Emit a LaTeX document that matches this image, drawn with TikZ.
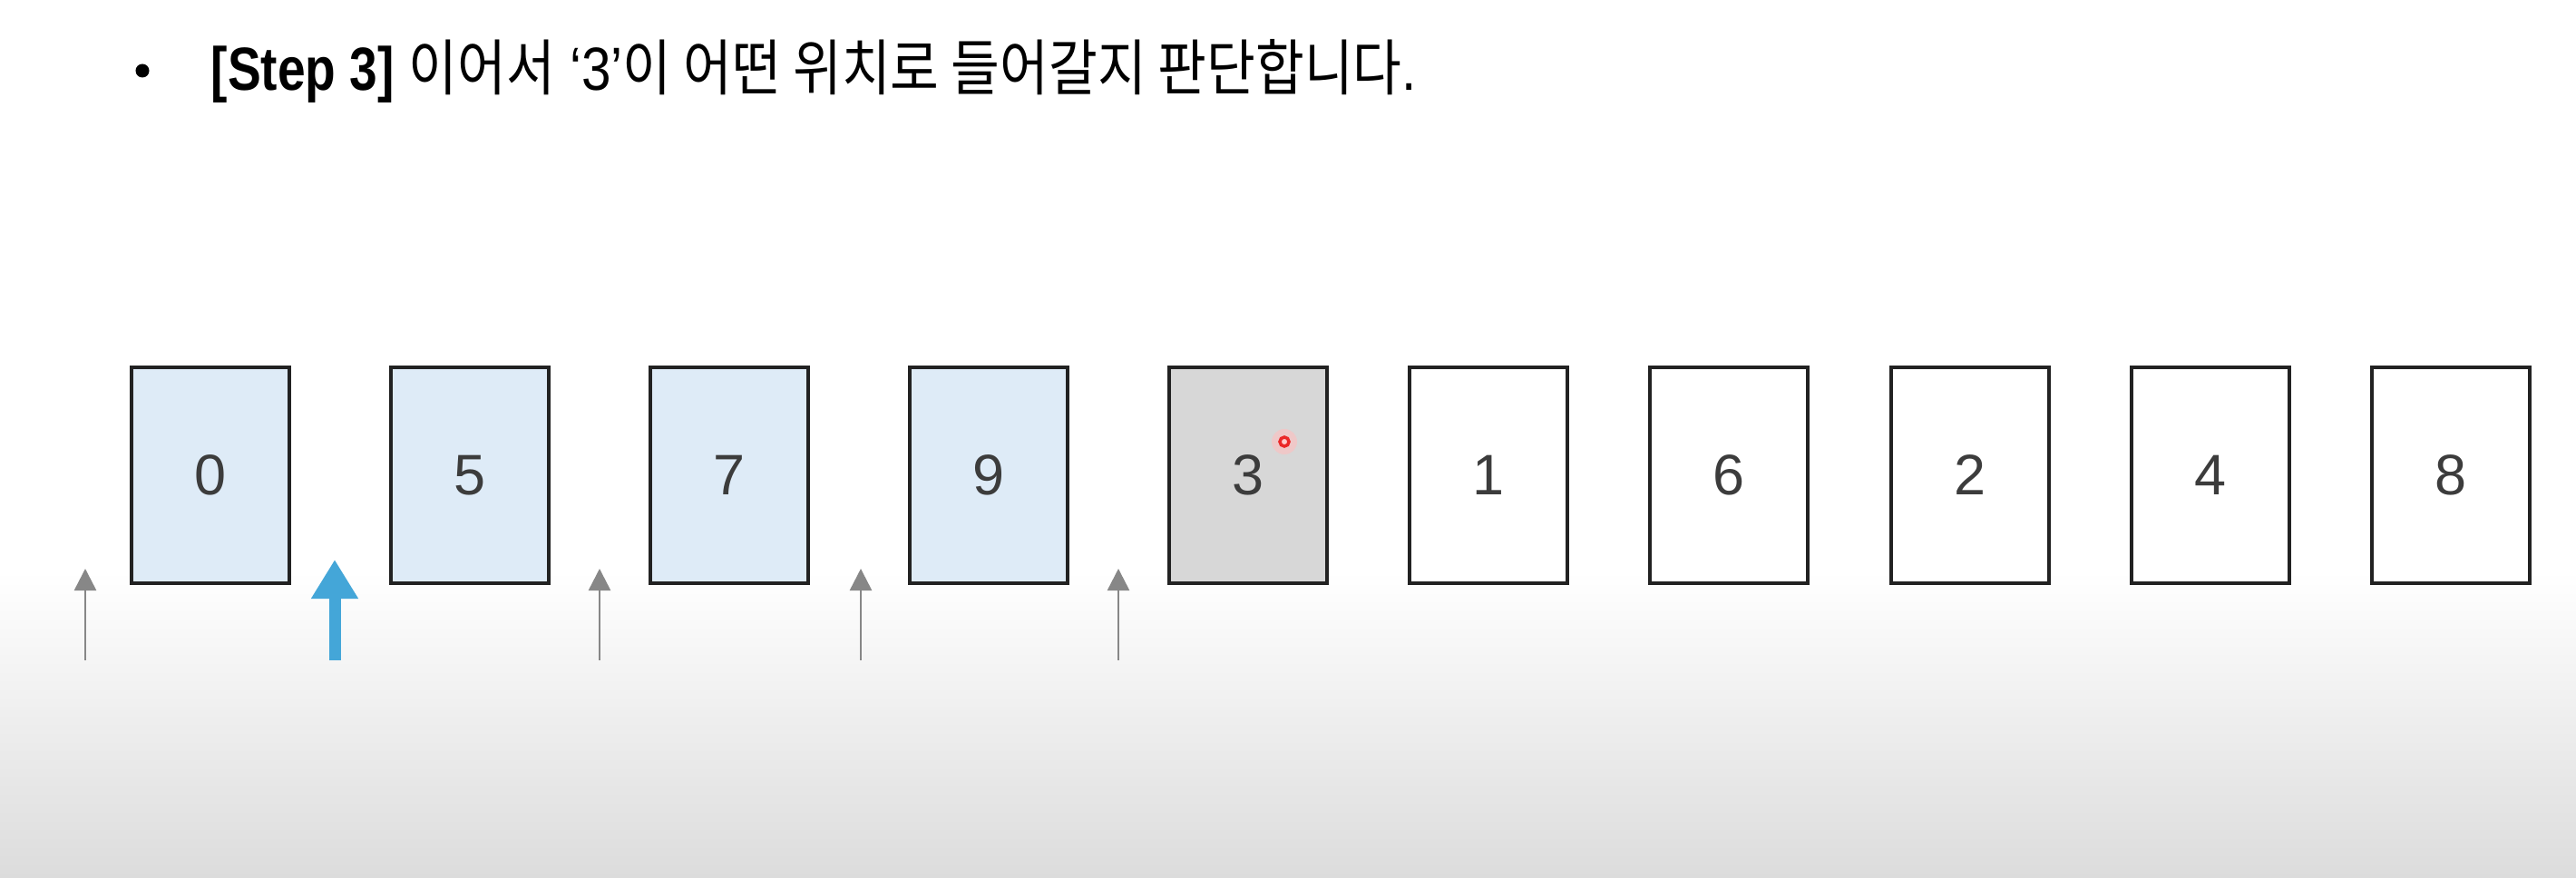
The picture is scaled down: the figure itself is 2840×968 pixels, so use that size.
\documentclass[tikz,border=0pt]{standalone}
\usepackage{fontspec}
\usepackage{graphicx}
\setmainfont{Liberation Sans}
\newfontfamily\krfont{Noto Sans CJK KR}
\usetikzlibrary{arrows.meta}
\definecolor{cardblue}{RGB}{222,235,247}
\definecolor{cardgray}{RGB}{215,215,215}
\definecolor{cardline}{RGB}{34,34,34}
\definecolor{digitcol}{RGB}{60,60,60}
\definecolor{ptrgray}{RGB}{135,135,135}
\definecolor{ptrblue}{RGB}{68,166,216}
\definecolor{bgbottom}{RGB}{220,220,220}
\definecolor{dotred}{RGB}{235,40,40}
\tikzset{
  card/.style={draw=cardline, line width=0.035cm, minimum width=1.74cm, minimum height=2.38cm,
    inner sep=0pt, font=\fontsize{17.9}{20}\selectfont, text=digitcol},
  sorted/.style={card, fill=cardblue},
  current/.style={card, fill=cardgray},
  unsorted/.style={card, fill=white},
  ptr/.style={draw=ptrgray, line width=0.025cm, -{Triangle[width=0.24cm,length=0.24cm]}},
  bigptr/.style={draw=ptrblue, line width=0.13cm, -{Triangle[width=0.49cm,length=0.43cm]}},
}
\begin{document}
\begin{tikzpicture}[x=0.01cm,y=-0.01cm]
\useasboundingbox (0,0) rectangle (2840,968);
\shade[top color=white, bottom color=bgbottom] (0,630) rectangle (2840,968);
% title
\node[circle, fill=black, inner sep=0pt, minimum size=0.15cm] (bullet) at (157,78) {};
\node[anchor=base west, inner sep=0pt, font=\fontsize{19.1}{22}\selectfont] (title) at (232,100)
  {\scalebox{0.82}[1]{\textbf{[Step 3]}}\scalebox{0.87}[1]{ {\krfont 이어서} ‘3’{\krfont 이 어떤 위치로 들어갈지 판단합니다}.}};
% cards
\node[sorted] (c0) at (232,524) {0};
\node[sorted] (c5) at (518,524) {5};
\node[sorted] (c7) at (804,524) {7};
\node[sorted] (c9) at (1090,524) {9};
\node[current] (c3) at (1376,524) {3};
\node[unsorted] (c1) at (1641,524) {1};
\node[unsorted] (c6) at (1906,524) {6};
\node[unsorted] (c2) at (2172,524) {2};
\node[unsorted] (c4) at (2437,524) {4};
\node[unsorted] (c8) at (2702,524) {8};
% red pointer dot
\fill[red!25, opacity=0.6] (1416,487) circle (0.14cm);
\node[circle, draw=dotred, line width=0.035cm, fill=red!20, inner sep=0pt, minimum size=0.1cm] (dot) at (1416,487) {};
% position pointers
\coordinate (p0s) at (94,728);   \coordinate (p0e) at (94,627);
\coordinate (pbs) at (369,728);  \coordinate (pbe) at (369,617);
\coordinate (p2s) at (661,728);  \coordinate (p2e) at (661,627);
\coordinate (p3s) at (949,728);  \coordinate (p3e) at (949,627);
\coordinate (p4s) at (1233,728); \coordinate (p4e) at (1233,627);
\draw[ptr] (p0s) -- (p0e);
\draw[bigptr] (pbs) -- (pbe);
\draw[ptr] (p2s) -- (p2e);
\draw[ptr] (p3s) -- (p3e);
\draw[ptr] (p4s) -- (p4e);
\end{tikzpicture}
\end{document}
